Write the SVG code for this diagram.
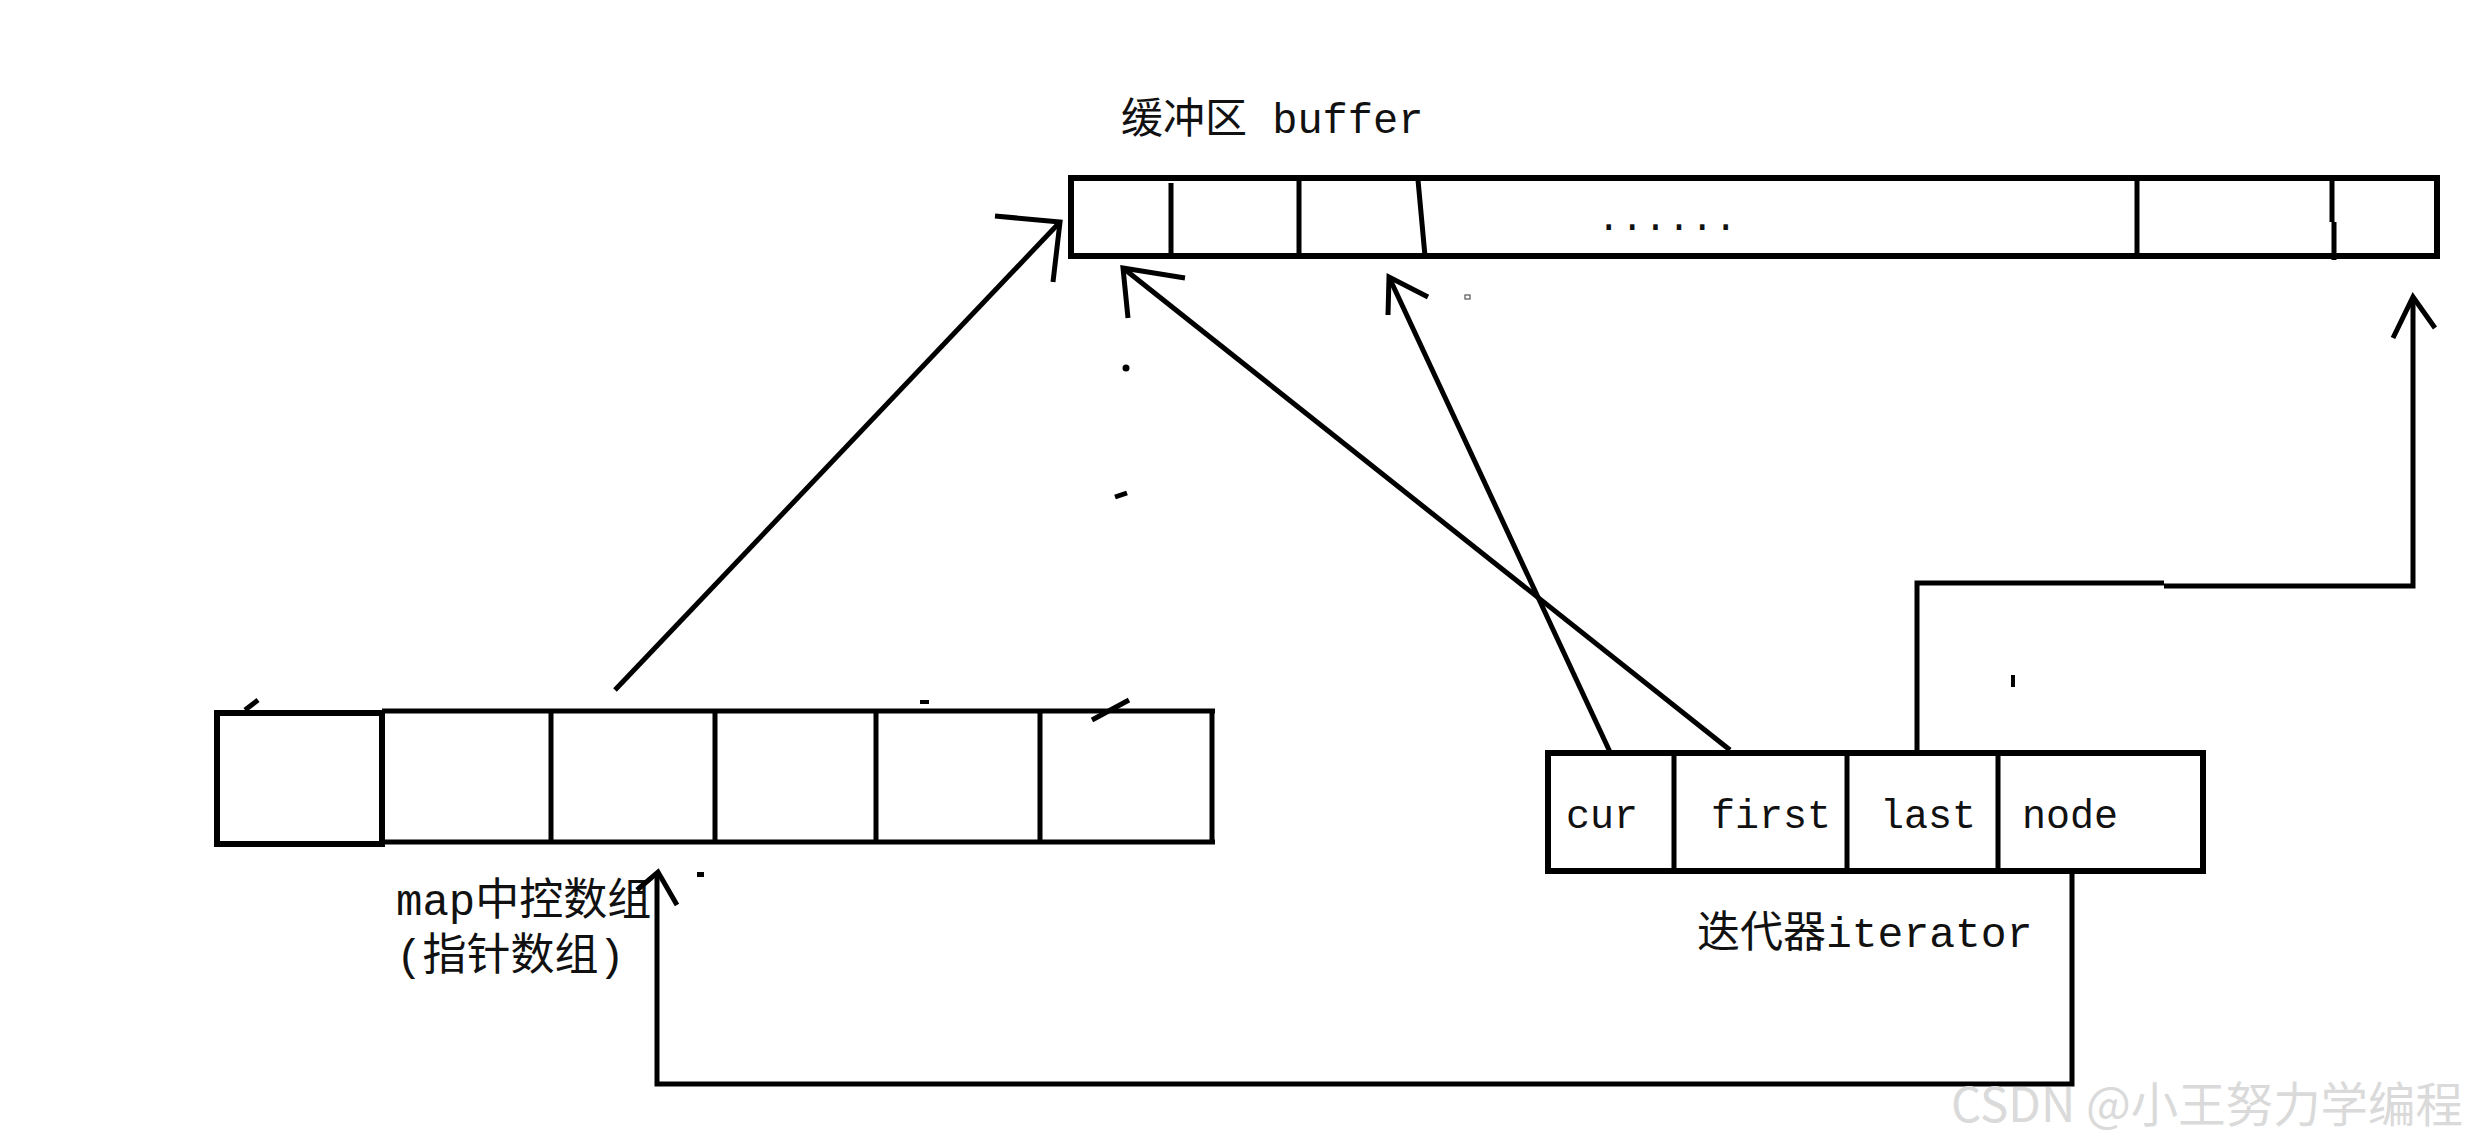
<svg xmlns="http://www.w3.org/2000/svg" width="2471" height="1146" viewBox="0 0 2471 1146">
<style>
.box{fill:none;stroke:#000;stroke-width:6}
.div{stroke:#000;stroke-width:5;fill:none}
.ln{stroke:#000;stroke-width:5;fill:none;stroke-linejoin:miter;stroke-linecap:butt}
.hd{stroke:#000;stroke-width:5;fill:none;stroke-linejoin:miter}
.lbl{font-family:"Liberation Mono","Noto Sans CJK SC",monospace;fill:#111}
.mk{fill:#000;stroke:none}
</style>
<rect width="2471" height="1146" fill="#fff"/>
<g id="buffer">
<rect class="box" x="1071" y="178" width="1366" height="78"/>
<path class="div" d="M1171,183 V259 M1299,178 V256 M1418,180 L1425,256 M2137,178 V256 M2332,178 V222 M2334,222 V260"/>
<text class="lbl" x="1597" y="230" font-size="39">......</text>
<text class="lbl" x="1121" y="133" font-size="42">缓冲区 buffer</text>
</g>
<g id="map">
<rect class="box" x="217" y="713" width="165" height="131"/>
<path class="div" d="M382,711 H1215 M382,842 H1215"/>
<path class="div" d="M551,711 V842" stroke-width="8"/>
<path class="div" d="M715,711 V842 M876,711 V842"/>
<path class="div" d="M1040,711 V842" stroke-width="9"/>
<path class="div" d="M1212,709 V844" stroke-width="9"/>
<text class="lbl" x="396" y="915" font-size="44">map中控数组</text>
<text class="lbl" x="396" y="970" font-size="44">(指针数组)</text>
</g>
<g id="iterator">
<rect class="box" x="1548" y="753" width="655" height="118"/>
<path class="div" d="M1674,753 V871 M1847,753 V874 M1998,753 V874" stroke-width="6"/>
<text class="lbl" x="1566" y="828" font-size="40">cur</text>
<text class="lbl" x="1711" y="828" font-size="40">first</text>
<text class="lbl" x="1880" y="828" font-size="40">last</text>
<text class="lbl" x="2022" y="828" font-size="40">node</text>
<text class="lbl" x="1697" y="947" font-size="43">迭代器iterator</text>
</g>
<g id="connectors">
<path class="ln" d="M615,690 L1060,222"/>
<path class="hd" d="M995,216 L1060,222 L1053,282"/>
<path class="ln" d="M1730,750 L1123,268"/>
<path class="hd" d="M1185,278 L1123,268 L1128,318"/>
<path class="ln" d="M1610,752 L1389,277"/>
<path class="hd" d="M1428,297 L1389,277 L1388,315"/>
<path class="ln" d="M1917,752 V583 H2164 M2164,586 H2413 V297" stroke-width="6"/>
<path class="hd" d="M2393,338 L2413,297 L2435,328"/>
<path class="ln" d="M2072,872 V1084 H657 V872" stroke-width="6"/>
<path class="hd" d="M637,890 L658,872 L677,905"/>
</g>
<g id="marks">
<path class="ln" d="M245,710 L258,700" stroke-width="4"/>
<path class="ln" d="M1092,720 L1129,700" stroke-width="4"/>
<rect class="mk" x="920" y="700" width="9" height="4"/>
<rect class="mk" x="697" y="872" width="7" height="5"/>
<circle class="mk" cx="1126" cy="368" r="3.5"/>
<path class="ln" d="M1115,497 L1127,493" stroke-width="4"/>
<rect x="1465" y="295" width="5" height="4" fill="none" stroke="#555" stroke-width="1.2"/>
<rect class="mk" x="2011" y="675" width="4" height="12"/>
</g>
<text x="1951" y="1122" font-size="48" textLength="512" lengthAdjust="spacingAndGlyphs" font-family="'Noto Sans CJK SC','Noto Sans',sans-serif" fill="#dadada">CSDN @小王努力学编程</text>
</svg>
